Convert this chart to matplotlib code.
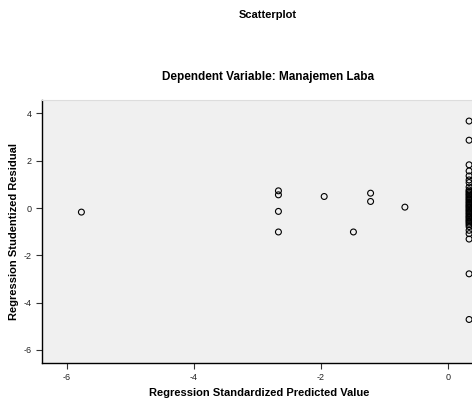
import matplotlib
matplotlib.use('Agg')
import matplotlib.pyplot as plt

plt.rcParams['font.family'] = ['Liberation Sans', 'DejaVu Sans']
plt.rcParams['axes.unicode_minus'] = False

# predicted (x) and studentized residual (y)
pred_left = [-5.77, -2.67, -2.67, -2.67, -2.67, -1.95, -1.22, -1.22, -1.49, -0.68]
resid_left = [-0.17, 0.73, 0.56, -0.14, -1.01, 0.49, 0.63, 0.28, -1.01, 0.04]

# the tall column of cases at the right edge
col_x = 0.33
col_resid = [3.68, 2.87, 1.83, 1.57, 1.36, 1.19, 1.08, 0.89, 0.77, 0.71, 0.66,
             0.60, 0.55, 0.49, 0.44, 0.38, 0.33, 0.27, 0.22, 0.16, 0.11, 0.06,
             0.01, -0.05, -0.10, -0.15, -0.21, -0.26, -0.32, -0.37, -0.42,
             -0.48, -0.53, -0.58, -0.64, -0.70, -0.78, -0.94, -1.08, -1.31,
             -2.78, -4.71]

xticks = [-6, -4, -2, 0]
yticks = [4, 2, 0, -2, -4, -6]

fig = plt.figure(figsize=(4.72, 4.05), dpi=100)
ax = fig.add_axes([42 / 472, 1 - 363 / 405, 1 - 42 / 472 + 0.01, (363 - 100) / 405])
ax.set_facecolor('#f0f0f0')

xs = pred_left + [col_x] * len(col_resid)
ys = resid_left + col_resid
ax.scatter(xs, ys, s=18, facecolors='none', edgecolors='black', linewidths=0.8, zorder=3)

ax.set_xlim(-6.39, 0.45)
ax.set_ylim(-6.55, 4.57)
ax.set_xticks(xticks)
ax.set_yticks(yticks)
ax.tick_params(labelsize=6.5, length=4, width=0.8, color='#333333', labelcolor='#222222')

for side in ['left', 'bottom']:
    ax.spines[side].set_color('black')
    ax.spines[side].set_linewidth(1.0)
ax.spines['top'].set_color('#dddddd')
ax.spines['right'].set_visible(False)

ax.set_xlabel('Regression Standardized Predicted Value', fontsize=8, fontweight='bold', labelpad=4)
ax.set_ylabel('Regression Studentized Residual', fontsize=8, fontweight='bold', labelpad=3)

fig.text(268 / 472, 1 - 15 / 405, 'Scatterplot', ha='center', va='center', fontsize=8, fontweight='bold')
fig.text(268 / 472, 1 - 77 / 405, 'Dependent Variable: Manajemen Laba', ha='center', va='center',
         fontsize=8.5, fontweight='bold')

fig.savefig('out.png', dpi=100)
